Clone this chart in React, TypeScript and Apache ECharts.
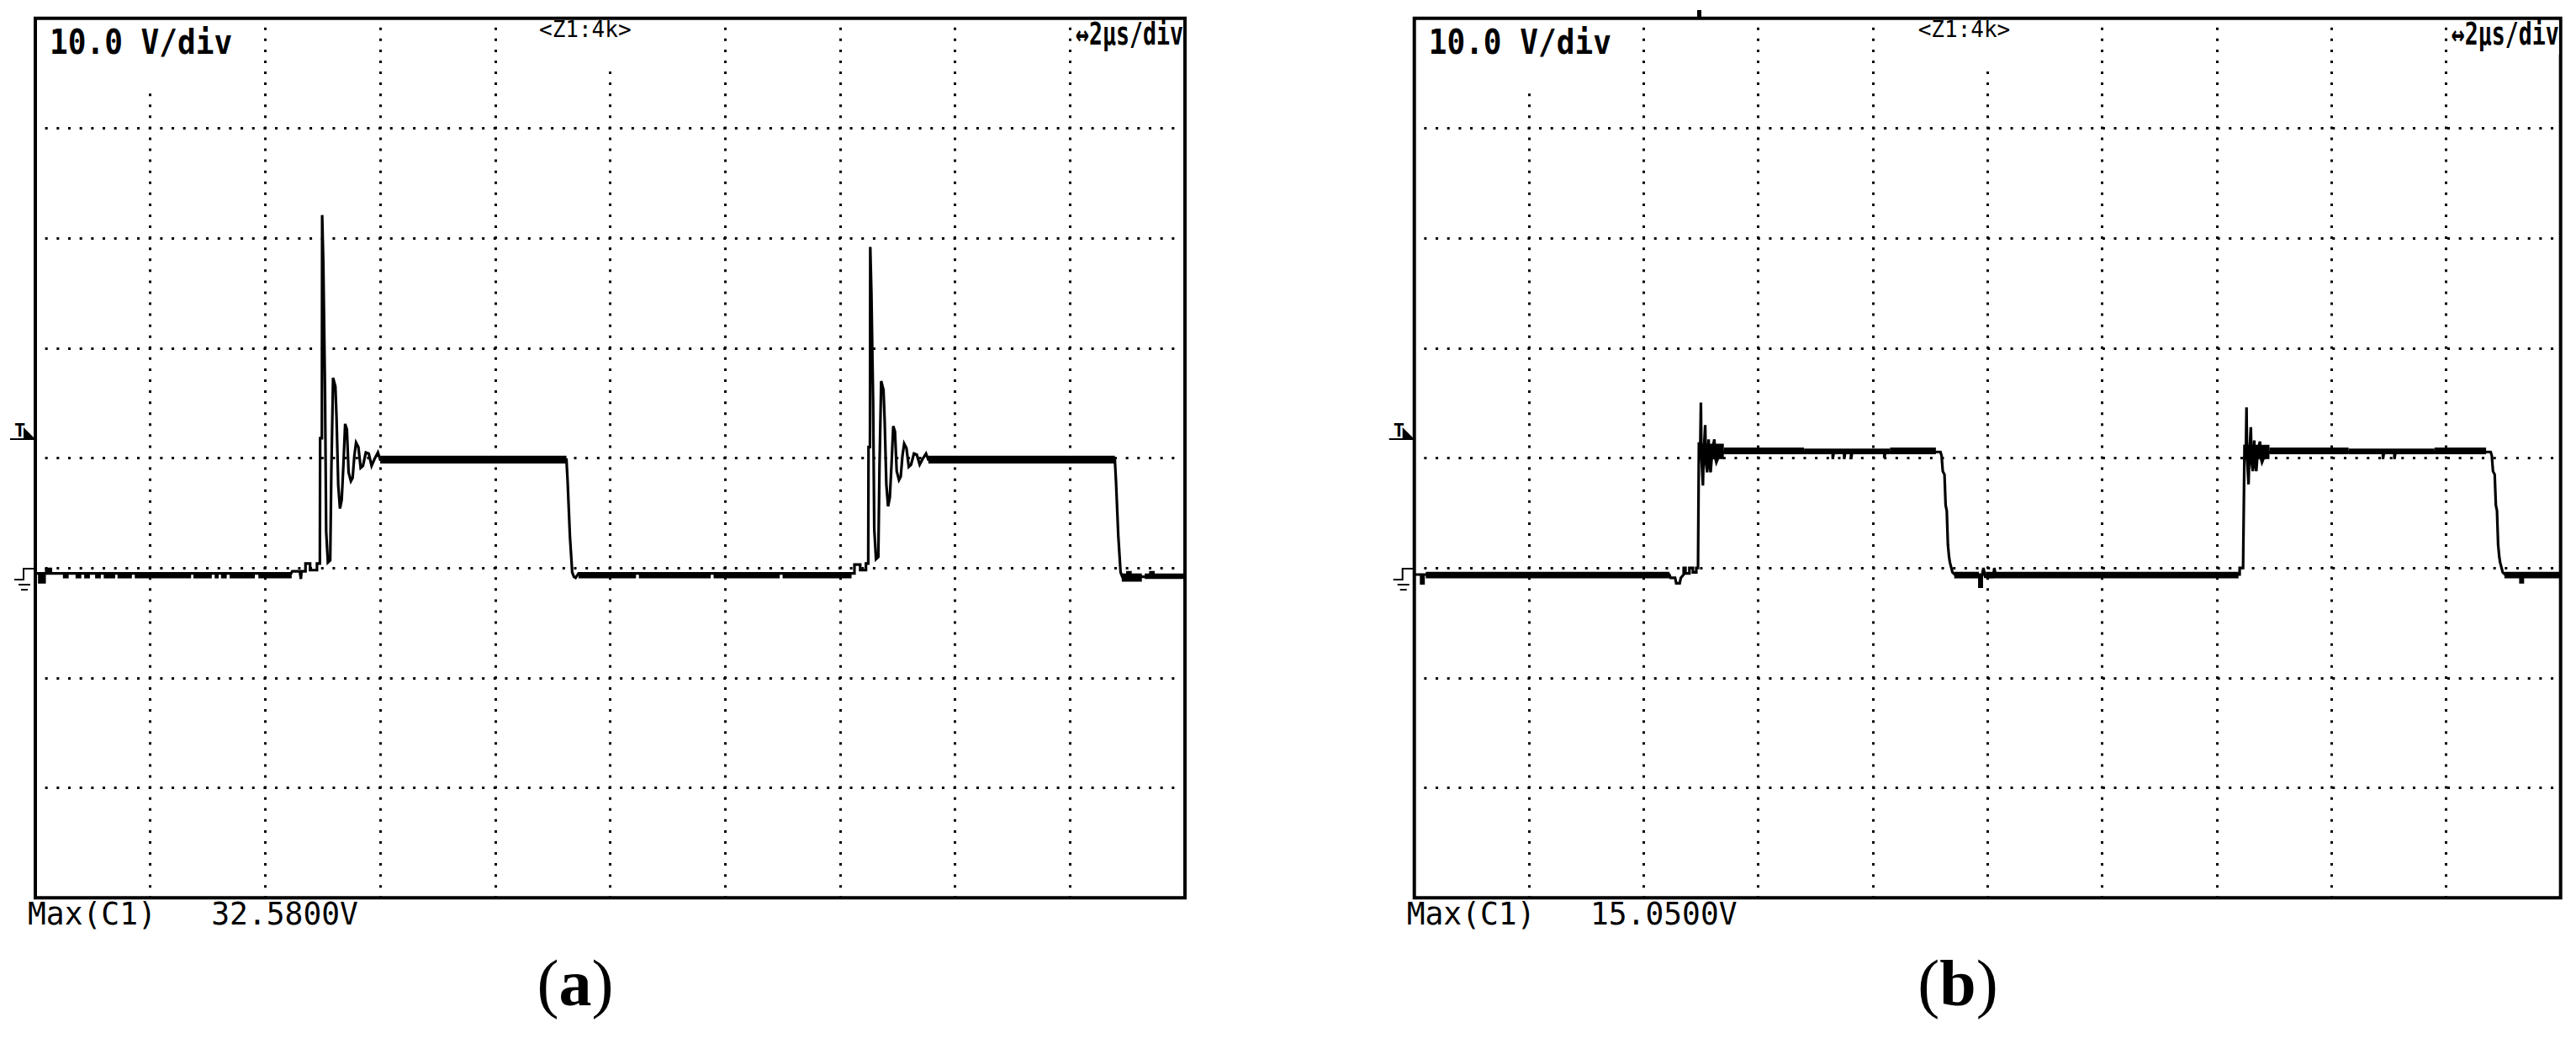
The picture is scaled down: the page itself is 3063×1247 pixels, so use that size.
import React, { useEffect, useRef } from 'react';
import * as echarts from 'echarts';

// Oscilloscope screens: 10 div x 2 µs/div (time, µs), 8 div x 10 V/div (voltage, V)
const timeMin = 0;
const timeMax = 20;
const timeStep = 2;
const voltMin = -30;
const voltMax = 50;
const voltStep = 10;

const panelLabels = ['(a)', '(b)'];
const scaleText = '10.0 V/div';
const zoomText = '<Z1:4k>';
const timeText = '↔2μs/div';
const maxTexts = ['Max(C1)   32.5800V', 'Max(C1)   15.0500V'];

// ---- Panel (a): [t µs, V]
const traceA: [number, number][] = [
  [0.0, -0.5], [0.07, -0.5], [0.07, -1.3], [0.1, -1.3], [0.1, -0.5], [0.13, -0.5], [0.13, -1.3], [0.16, -1.3],
  [0.16, -0.5], [0.19, -0.5], [0.19, -0.1], [0.22, -0.1], [0.22, -0.5], [0.25, -0.5], [0.25, -0.1], [0.27, -0.1],
  [0.27, -0.5], [4.45, -0.5], [4.47, -0.3], [4.6, -0.3], [4.62, -1.0], [4.63, -0.3], [4.7, -0.3], [4.7, 0.4],
  [4.78, 0.4], [4.78, -0.2], [4.9, -0.2], [4.9, 0.4], [4.95, 0.4],
  [4.955, 11.8], [4.985, 11.8], [4.99, 32.1], [5.0, 32.1], [5.01, 27.7], [5.04, 15.9], [5.06, 3.3], [5.09, 0.5],
  [5.13, 0.7], [5.15, 8.9], [5.18, 17.3], [5.22, 16.5], [5.24, 13.7], [5.27, 7.5], [5.3, 5.4], [5.33, 6.2],
  [5.36, 9.4], [5.39, 13.1], [5.42, 12.6], [5.45, 8.7], [5.49, 7.9], [5.52, 8.2], [5.55, 10.2], [5.58, 11.4],
  [5.62, 11.0], [5.66, 9.1], [5.7, 9.3], [5.75, 10.5], [5.8, 10.4], [5.85, 9.3], [5.9, 9.9], [5.96, 10.5], [6.0, 9.85],
  [9.24, 9.85], [9.26, 7.9], [9.3, 2.9], [9.34, -0.4], [9.37, -0.8], [9.4, -0.9], [9.45, -0.5],
  [14.25, -0.5], [14.25, 0.3], [14.35, 0.3], [14.35, -0.2], [14.45, -0.2], [14.45, 0.4], [14.49, 0.4],
  [14.495, 11.0], [14.52, 11.0], [14.525, 29.2], [14.535, 29.2], [14.545, 25.0], [14.575, 15.0], [14.595, 3.5],
  [14.625, 0.8], [14.665, 1.0], [14.685, 9.0], [14.715, 17.0], [14.755, 16.2], [14.775, 13.5], [14.805, 7.6],
  [14.835, 5.6], [14.865, 6.4], [14.895, 9.4], [14.925, 12.9], [14.955, 12.4], [14.985, 8.8], [15.025, 8.0],
  [15.055, 8.3], [15.085, 10.2], [15.115, 11.3], [15.155, 10.9], [15.195, 9.2], [15.235, 9.4], [15.285, 10.4],
  [15.335, 10.3], [15.385, 9.4], [15.435, 9.9], [15.495, 10.4], [15.535, 9.85],
  [18.78, 9.85], [18.8, 7.9], [18.84, 2.9], [18.88, -0.4], [18.91, -0.8], [19.0, -0.8], [19.0, -0.4], [19.05, -0.4],
  [19.05, -0.8], [19.4, -0.8], [19.4, -0.4], [19.45, -0.4], [19.45, -0.7], [20.0, -0.7],
];
// noisy spans of trace (a): [t start, t end, V low, V high]
const noiseA: [number, number, number, number][] = [
  [0.48, 0.58, -0.95, -0.4], [0.7, 0.8, -0.95, -0.4], [0.85, 0.95, -0.95, -0.4], [1.04, 1.14, -0.95, -0.4],
  [1.19, 1.39, -0.95, -0.4], [1.43, 1.68, -0.95, -0.4], [1.73, 2.71, -0.95, -0.4], [2.75, 3.07, -0.95, -0.4],
  [3.12, 3.19, -0.95, -0.4], [3.23, 3.33, -0.95, -0.4], [3.38, 3.82, -0.95, -0.4], [3.88, 4.46, -0.95, -0.4],
  [6.0, 9.24, 9.5, 10.2],
  [9.45, 10.45, -0.95, -0.4], [10.5, 11.75, -0.95, -0.4], [11.8, 12.95, -0.95, -0.4],
  [13.0, 14.2, -0.95, -0.4],
  [15.535, 18.78, 9.5, 10.2],
  [18.9, 19.25, -1.25, -0.5], [19.3, 19.99, -1.0, -0.5],
];

// ---- Panel (b): [t µs, V]
const traceB: [number, number][] = [
  [0.0, -0.6], [0.12, -0.6], [0.12, -1.4], [0.16, -1.4], [0.16, -0.6], [4.45, -0.6], [4.47, -0.9], [4.55, -0.9],
  [4.57, -1.4], [4.63, -1.4], [4.65, -0.9], [4.7, -0.6], [4.7, 0.0], [4.73, 0.0], [4.73, -0.5], [4.8, -0.5],
  [4.8, 0.0], [4.86, 0.0], [4.86, -0.4], [4.92, -0.4], [4.92, 0.0], [4.95, 0.0],
  [4.965, 11.3], [4.99, 11.3], [5.0, 15.05], [5.01, 10.0], [5.035, 7.5], [5.05, 10.5], [5.075, 13.0], [5.09, 9.5],
  [5.11, 8.7], [5.135, 11.7], [5.15, 9.5], [5.17, 8.7], [5.2, 10.8], [5.235, 11.7], [5.25, 10.0], [5.27, 9.6],
  [5.3, 10.0], [5.33, 10.4], [5.4, 10.55],
  [7.3, 10.55], [7.3, 9.9], [7.32, 10.55], [7.5, 10.55], [7.5, 9.9], [7.52, 10.55], [7.62, 10.55], [7.62, 9.9],
  [7.64, 10.55], [8.2, 10.55], [8.2, 10.0], [8.22, 10.55],
  [9.18, 10.55], [9.2, 10.2], [9.22, 8.8], [9.25, 8.5], [9.27, 5.7], [9.29, 5.2], [9.31, 2.1], [9.33, 1.0],
  [9.345, 0.5], [9.39, -0.4], [9.43, -0.6], [9.86, -0.6], [9.86, -1.7], [9.9, -1.7], [9.9, -0.8], [9.93, 0.0],
  [9.96, -0.8], [10.1, -0.8], [10.12, 0.0], [10.14, -0.6], [14.4, -0.6], [14.4, 0.0], [14.46, 0.0],
  [14.485, 11.1], [14.51, 11.1], [14.52, 14.6], [14.53, 10.0], [14.555, 7.6], [14.57, 10.4], [14.595, 12.8],
  [14.61, 9.5], [14.63, 8.8], [14.655, 11.6], [14.67, 9.5], [14.69, 8.8], [14.72, 10.8], [14.755, 11.5],
  [14.77, 10.0], [14.79, 9.6], [14.82, 10.0], [14.85, 10.4], [14.92, 10.55],
  [16.9, 10.55], [16.9, 9.9], [16.92, 10.55], [17.1, 10.55], [17.1, 9.9], [17.12, 10.55],
  [18.78, 10.55], [18.8, 10.2], [18.82, 8.8], [18.85, 8.5], [18.87, 5.7], [18.89, 5.2], [18.91, 2.1], [18.93, 1.0],
  [18.945, 0.5], [18.99, -0.4], [19.03, -0.6], [19.3, -0.6], [19.3, -1.3], [19.34, -1.3], [19.34, -0.6], [20.0, -0.6],
];
const noiseB: [number, number, number, number][] = [
  [0.2, 4.45, -0.95, -0.35],
  [4.97, 5.4, 9.9, 11.3],
  [5.4, 6.8, 10.35, 10.95], [6.8, 8.3, 10.35, 10.85], [8.3, 9.1, 10.35, 10.95],
  [9.42, 9.85, -0.95, -0.35], [9.97, 14.38, -0.95, -0.35],
  [14.49, 14.92, 9.9, 11.2],
  [14.92, 16.3, 10.35, 10.95], [16.3, 17.8, 10.35, 10.85], [17.8, 18.7, 10.35, 10.95],
  [19.02, 20.0, -0.95, -0.35],
];

const traces = [traceA, traceB];
const noises = [noiseA, noiseB];

// layout (px)
const GRID_TOP = 21.7;
const GRID_H = 1045.5;
const panels = [
  { left: 42, width: 1367, labelX: 684 },
  { left: 1681.7, width: 1363, labelX: 2328 },
];

const MONO = '"DejaVu Sans Mono", "Liberation Mono", monospace';

function text(x: number, y: number, t: string, size: number, opt: any = {}) {
  return {
    type: 'text',
    x,
    y,
    scaleX: opt.sx ?? 1,
    z: 110,
    style: {
      text: t,
      fill: '#000',
      fontFamily: opt.family ?? MONO,
      fontSize: size,
      fontWeight: opt.bold ? 'bold' : 'normal',
      textAlign: opt.align ?? 'left',
      textVerticalAlign: 'middle',
      align: opt.align ?? 'left',
      verticalAlign: 'middle',
      rich: opt.rich,
    },
  };
}

function panelGraphics(i: number) {
  const p = panels[i];
  const gx = p.left;
  const gr = p.left + p.width;
  const els: any[] = [];
  // white boxes under screen annotations
  els.push({ type: 'rect', z: 105, shape: { x: gx + 6, y: GRID_TOP + 4, width: 250, height: 78 }, style: { fill: '#fff' } });
  els.push({ type: 'rect', z: 105, shape: { x: gx + 593, y: GRID_TOP + 3, width: 120, height: 60 }, style: { fill: '#fff' } });
  els.push({ type: 'rect', z: 105, shape: { x: gr - 134, y: GRID_TOP + 3, width: 132, height: 40 }, style: { fill: '#fff' } });
  els.push(text(gx + 17, 50, scaleText, 41, { bold: true, sx: 0.88 }));
  els.push(text(gx + 599, 35, zoomText, 26, {}));
  els.push(text(gr - 2, 40, timeText, 38, { bold: true, sx: 0.7, align: 'right' }));
  els.push(text(gx - 9, 1086, maxTexts[i], 37, { sx: 0.98 }));
  // trigger marker
  els.push(text(gx - 25, 511, 'T', 22, { bold: true }));
  els.push({ type: 'line', z: 110, shape: { x1: gx - 30, y1: 522, x2: gx, y2: 522 }, style: { stroke: '#000', lineWidth: 2 } });
  els.push({ type: 'polygon', z: 110, shape: { points: [[gx - 14, 508], [gx, 522], [gx - 14, 522]] }, style: { fill: '#000' } });
  // ground marker
  els.push({ type: 'polyline', z: 110, shape: { points: [[gx - 25, 689], [gx - 14, 689], [gx - 14, 676], [gx, 676]] }, style: { stroke: '#000', lineWidth: 2, fill: null } });
  els.push({ type: 'line', z: 110, shape: { x1: gx - 20, y1: 695, x2: gx - 6, y2: 695 }, style: { stroke: '#000', lineWidth: 2 } });
  els.push({ type: 'line', z: 110, shape: { x1: gx - 17, y1: 701, x2: gx - 9, y2: 701 }, style: { stroke: '#000', lineWidth: 2 } });
  // panel label
  els.push(text(p.labelX, 1168, '({b|' + panelLabels[i].slice(1, 2) + '})', 78, {
    family: '"Liberation Serif", "Times New Roman", serif',
    align: 'center',
    rich: { b: { fontWeight: 'bold', fontSize: 78, fontFamily: '"Liberation Serif", "Times New Roman", serif' } },
  }));
  return els;
}

export default function App() {
  const ref = useRef<HTMLDivElement>(null);
  useEffect(() => {
    document.body.style.margin = '0';
    const chart = echarts.init(ref.current!, undefined, { renderer: 'svg', width: 3063, height: 1247 });
    const grids = panels.map((p) => ({
      left: p.left,
      top: GRID_TOP,
      width: p.width,
      height: GRID_H,
      show: true,
      borderColor: '#000',
      borderWidth: 4,
      backgroundColor: 'transparent',
    }));
    const xAxes = panels.map((p, i) => ({
      type: 'value',
      gridIndex: i,
      min: timeMin,
      max: timeMax,
      interval: timeStep,
      axisLine: { show: false },
      axisTick: { show: false },
      axisLabel: { show: false },
      splitLine: { show: true, lineStyle: { color: '#000', width: 3, type: [3, 10.07], dashOffset: 1.5 } },
    }));
    const yAxes = panels.map((p, i) => ({
      type: 'value',
      gridIndex: i,
      min: voltMin,
      max: voltMax,
      interval: voltStep,
      axisLine: { show: false },
      axisTick: { show: false },
      axisLabel: { show: false },
      splitLine: { show: true, lineStyle: { color: '#000', width: 3, type: [3, 10.67], dashOffset: 1.5 } },
    }));
    const series: any[] = [];
    panels.forEach((p, i) => {
      series.push({
        type: 'custom',
        xAxisIndex: i,
        yAxisIndex: i,
        clip: true,
        z: 3,
        data: noises[i],
        encode: { x: [0, 1], y: [2, 3] },
        renderItem: (params: any, api: any) => {
          const a = api.coord([api.value(0), api.value(3)]);
          const b = api.coord([api.value(1), api.value(2)]);
          return {
            type: 'rect',
            shape: { x: a[0], y: a[1], width: b[0] - a[0], height: b[1] - a[1] },
            style: { fill: '#000' },
          };
        },
      });
      series.push({
        type: 'line',
        xAxisIndex: i,
        yAxisIndex: i,
        data: traces[i],
        showSymbol: false,
        symbol: 'none',
        clip: true,
        z: 4,
        lineStyle: { color: '#000', width: 3.2, join: 'miter' },
      });
    });
    chart.setOption({
      animation: false,
      backgroundColor: '#fff',
      grid: grids,
      xAxis: xAxes,
      yAxis: yAxes,
      series,
      graphic: { elements: [...panelGraphics(0), ...panelGraphics(1),
        { type: 'rect', z: 110, shape: { x: 2018, y: 12, width: 5, height: 10 }, style: { fill: '#000' } }] },
    });
    return () => chart.dispose();
  }, []);
  return <div ref={ref} style={{ position: 'fixed', left: 0, top: 0, width: 3063, height: 1247, background: '#fff' }} />;
}
